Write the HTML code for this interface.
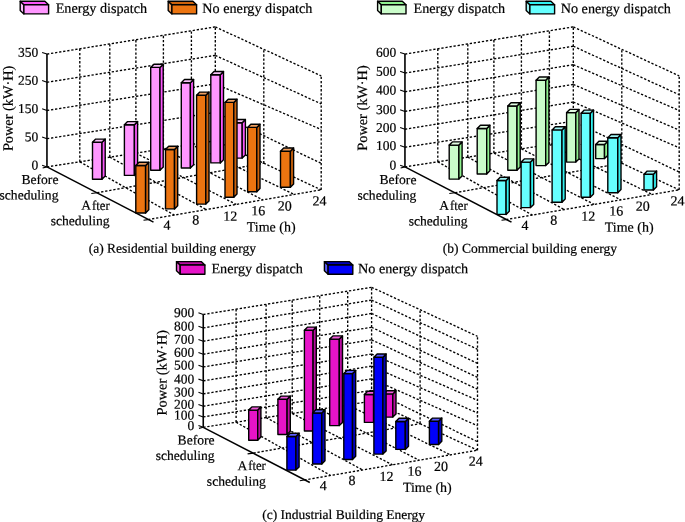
<!DOCTYPE html>
<html><head><meta charset="utf-8"><title>Building energy charts</title>
<style>html,body{margin:0;padding:0;background:#fff;}body{width:685px;height:522px;overflow:hidden;font-family:"Liberation Serif",serif;}svg{display:block;will-change:transform;}</style>
</head><body>
<svg width="685" height="522" viewBox="0 0 685 522"><g font-family="Liberation Serif" fill="#000">
<line x1="46.95" y1="166.9" x2="215.3" y2="140.8" stroke="#000" stroke-width="1.35" stroke-dasharray="2.3 1.8"/>
<line x1="215.3" y1="140.8" x2="321.2" y2="189.8" stroke="#000" stroke-width="1.35" stroke-dasharray="2.3 1.8"/>
<line x1="46.95" y1="138.7" x2="215.3" y2="112.33" stroke="#000" stroke-width="1.35" stroke-dasharray="2.3 1.8"/>
<line x1="215.3" y1="112.33" x2="321.2" y2="163.38" stroke="#000" stroke-width="1.35" stroke-dasharray="2.3 1.8"/>
<line x1="46.95" y1="110.5" x2="215.3" y2="83.85" stroke="#000" stroke-width="1.35" stroke-dasharray="2.3 1.8"/>
<line x1="215.3" y1="83.85" x2="321.2" y2="129.55" stroke="#000" stroke-width="1.35" stroke-dasharray="2.3 1.8"/>
<line x1="46.95" y1="82.3" x2="215.3" y2="55.38" stroke="#000" stroke-width="1.35" stroke-dasharray="2.3 1.8"/>
<line x1="215.3" y1="55.38" x2="321.2" y2="103.92" stroke="#000" stroke-width="1.35" stroke-dasharray="2.3 1.8"/>
<line x1="46.95" y1="54.1" x2="215.3" y2="26.9" stroke="#000" stroke-width="1.35" stroke-dasharray="2.3 1.8"/>
<line x1="215.3" y1="26.9" x2="321.2" y2="75.9" stroke="#000" stroke-width="1.35" stroke-dasharray="2.3 1.8"/>
<line x1="79.8" y1="161.81" x2="79.8" y2="48.79" stroke="#000" stroke-width="1.35" stroke-dasharray="2.3 1.8"/>
<line x1="109.8" y1="157.16" x2="109.8" y2="43.95" stroke="#000" stroke-width="1.35" stroke-dasharray="2.3 1.8"/>
<line x1="135.9" y1="153.11" x2="135.9" y2="39.73" stroke="#000" stroke-width="1.35" stroke-dasharray="2.3 1.8"/>
<line x1="163.4" y1="148.85" x2="163.4" y2="35.29" stroke="#000" stroke-width="1.35" stroke-dasharray="2.3 1.8"/>
<line x1="191.4" y1="144.51" x2="191.4" y2="30.76" stroke="#000" stroke-width="1.35" stroke-dasharray="2.3 1.8"/>
<line x1="215.3" y1="140.8" x2="215.3" y2="26.9" stroke="#000" stroke-width="1.35" stroke-dasharray="2.3 1.8"/>
<line x1="263.8" y1="163.24" x2="263.8" y2="49.34" stroke="#000" stroke-width="1.35" stroke-dasharray="2.3 1.8"/>
<line x1="321.2" y1="189.8" x2="321.2" y2="75.9" stroke="#000" stroke-width="1.35" stroke-dasharray="2.3 1.8"/>
<line x1="79.8" y1="161.81" x2="174.3" y2="215.07" stroke="#000" stroke-width="1.35" stroke-dasharray="2.3 1.8"/>
<line x1="109.8" y1="157.16" x2="206.3" y2="209.57" stroke="#000" stroke-width="1.35" stroke-dasharray="2.3 1.8"/>
<line x1="135.9" y1="153.11" x2="236.2" y2="204.42" stroke="#000" stroke-width="1.35" stroke-dasharray="2.3 1.8"/>
<line x1="163.4" y1="148.85" x2="262.8" y2="199.85" stroke="#000" stroke-width="1.35" stroke-dasharray="2.3 1.8"/>
<line x1="191.4" y1="144.51" x2="294.2" y2="194.45" stroke="#000" stroke-width="1.35" stroke-dasharray="2.3 1.8"/>
<line x1="97.1" y1="192.7" x2="263.8" y2="163.24" stroke="#000" stroke-width="1.35" stroke-dasharray="2.3 1.8"/>
<line x1="148" y1="219.6" x2="321.2" y2="189.8" stroke="#000" stroke-width="1.35" stroke-dasharray="2.3 1.8"/>
<line x1="46.95" y1="166.9" x2="46.95" y2="54.1" stroke="#000" stroke-width="1.6"/>
<line x1="46.95" y1="166.9" x2="153.5" y2="222.1" stroke="#000" stroke-width="1.5"/>
<line x1="46.95" y1="166.9" x2="42.15" y2="165.2" stroke="#000" stroke-width="1.1"/>
<line x1="46.95" y1="138.7" x2="42.15" y2="137" stroke="#000" stroke-width="1.1"/>
<line x1="46.95" y1="110.5" x2="42.15" y2="108.8" stroke="#000" stroke-width="1.1"/>
<line x1="46.95" y1="82.3" x2="42.15" y2="80.6" stroke="#000" stroke-width="1.1"/>
<line x1="46.95" y1="54.1" x2="42.15" y2="52.4" stroke="#000" stroke-width="1.1"/>
<line x1="97.1" y1="192.7" x2="91.3" y2="193.5" stroke="#000" stroke-width="1.1"/>
<line x1="148" y1="219.6" x2="143.5" y2="220.3" stroke="#000" stroke-width="1.1"/>
<line x1="46.95" y1="166.9" x2="42.65" y2="168" stroke="#000" stroke-width="1.1"/>
<polygon points="92.5,142.3 102,142.3 102,179.3 92.5,179.3" fill="#FF96FF" stroke="#000" stroke-width="1.4" stroke-linejoin="round"/>
<polygon points="102,142.3 105.2,139.1 105.2,176.1 102,179.3" fill="#FA55FA" stroke="#000" stroke-width="1.4" stroke-linejoin="round"/>
<polygon points="92.5,142.3 95.7,139.1 105.2,139.1 102,142.3" fill="#F8C0F8" stroke="#000" stroke-width="1.4" stroke-linejoin="round"/>
<polygon points="124.4,124.8 134.4,124.8 134.4,175.4 124.4,175.4" fill="#FF96FF" stroke="#000" stroke-width="1.4" stroke-linejoin="round"/>
<polygon points="134.4,124.8 137.6,121.6 137.6,172.2 134.4,175.4" fill="#FA55FA" stroke="#000" stroke-width="1.4" stroke-linejoin="round"/>
<polygon points="124.4,124.8 127.6,121.6 137.6,121.6 134.4,124.8" fill="#F8C0F8" stroke="#000" stroke-width="1.4" stroke-linejoin="round"/>
<polygon points="150.7,67.4 160,67.4 160,170.3 150.7,170.3" fill="#FF96FF" stroke="#000" stroke-width="1.4" stroke-linejoin="round"/>
<polygon points="160,67.4 163.2,64.2 163.2,167.1 160,170.3" fill="#FA55FA" stroke="#000" stroke-width="1.4" stroke-linejoin="round"/>
<polygon points="150.7,67.4 153.9,64.2 163.2,64.2 160,67.4" fill="#F8C0F8" stroke="#000" stroke-width="1.4" stroke-linejoin="round"/>
<polygon points="181.3,82.7 190.4,82.7 190.4,168 181.3,168" fill="#FF96FF" stroke="#000" stroke-width="1.4" stroke-linejoin="round"/>
<polygon points="190.4,82.7 193.6,79.5 193.6,164.8 190.4,168" fill="#FA55FA" stroke="#000" stroke-width="1.4" stroke-linejoin="round"/>
<polygon points="181.3,82.7 184.5,79.5 193.6,79.5 190.4,82.7" fill="#F8C0F8" stroke="#000" stroke-width="1.4" stroke-linejoin="round"/>
<polygon points="210.8,74.7 220.3,74.7 220.3,162.9 210.8,162.9" fill="#FF96FF" stroke="#000" stroke-width="1.4" stroke-linejoin="round"/>
<polygon points="220.3,74.7 223.5,71.5 223.5,159.7 220.3,162.9" fill="#FA55FA" stroke="#000" stroke-width="1.4" stroke-linejoin="round"/>
<polygon points="210.8,74.7 214,71.5 223.5,71.5 220.3,74.7" fill="#F8C0F8" stroke="#000" stroke-width="1.4" stroke-linejoin="round"/>
<polygon points="232.7,122.7 242.2,122.7 242.2,158.1 232.7,158.1" fill="#FF96FF" stroke="#000" stroke-width="1.4" stroke-linejoin="round"/>
<polygon points="242.2,122.7 245.4,119.5 245.4,154.9 242.2,158.1" fill="#FA55FA" stroke="#000" stroke-width="1.4" stroke-linejoin="round"/>
<polygon points="232.7,122.7 235.9,119.5 245.4,119.5 242.2,122.7" fill="#F8C0F8" stroke="#000" stroke-width="1.4" stroke-linejoin="round"/>
<polygon points="135.8,165.5 145.6,165.5 145.6,213 135.8,213" fill="#EC7410" stroke="#000" stroke-width="1.4" stroke-linejoin="round"/>
<polygon points="145.6,165.5 148.8,162.3 148.8,209.8 145.6,213" fill="#CC620C" stroke="#000" stroke-width="1.4" stroke-linejoin="round"/>
<polygon points="135.8,165.5 139,162.3 148.8,162.3 145.6,165.5" fill="#F0A060" stroke="#000" stroke-width="1.4" stroke-linejoin="round"/>
<polygon points="165.5,149.5 174.5,149.5 174.5,208.9 165.5,208.9" fill="#EC7410" stroke="#000" stroke-width="1.4" stroke-linejoin="round"/>
<polygon points="174.5,149.5 177.7,146.3 177.7,205.7 174.5,208.9" fill="#CC620C" stroke="#000" stroke-width="1.4" stroke-linejoin="round"/>
<polygon points="165.5,149.5 168.7,146.3 177.7,146.3 174.5,149.5" fill="#F0A060" stroke="#000" stroke-width="1.4" stroke-linejoin="round"/>
<polygon points="196.6,95.3 205.8,95.3 205.8,204.1 196.6,204.1" fill="#EC7410" stroke="#000" stroke-width="1.4" stroke-linejoin="round"/>
<polygon points="205.8,95.3 209,92.1 209,200.9 205.8,204.1" fill="#CC620C" stroke="#000" stroke-width="1.4" stroke-linejoin="round"/>
<polygon points="196.6,95.3 199.8,92.1 209,92.1 205.8,95.3" fill="#F0A060" stroke="#000" stroke-width="1.4" stroke-linejoin="round"/>
<polygon points="225,102.4 233.8,102.4 233.8,197.3 225,197.3" fill="#EC7410" stroke="#000" stroke-width="1.4" stroke-linejoin="round"/>
<polygon points="233.8,102.4 237,99.2 237,194.1 233.8,197.3" fill="#CC620C" stroke="#000" stroke-width="1.4" stroke-linejoin="round"/>
<polygon points="225,102.4 228.2,99.2 237,99.2 233.8,102.4" fill="#F0A060" stroke="#000" stroke-width="1.4" stroke-linejoin="round"/>
<polygon points="247.6,127.4 256.8,127.4 256.8,191.8 247.6,191.8" fill="#EC7410" stroke="#000" stroke-width="1.4" stroke-linejoin="round"/>
<polygon points="256.8,127.4 260,124.2 260,188.6 256.8,191.8" fill="#CC620C" stroke="#000" stroke-width="1.4" stroke-linejoin="round"/>
<polygon points="247.6,127.4 250.8,124.2 260,124.2 256.8,127.4" fill="#F0A060" stroke="#000" stroke-width="1.4" stroke-linejoin="round"/>
<polygon points="280.5,151.2 290.4,151.2 290.4,187.3 280.5,187.3" fill="#EC7410" stroke="#000" stroke-width="1.4" stroke-linejoin="round"/>
<polygon points="290.4,151.2 293.6,148 293.6,184.1 290.4,187.3" fill="#CC620C" stroke="#000" stroke-width="1.4" stroke-linejoin="round"/>
<polygon points="280.5,151.2 283.7,148 293.6,148 290.4,151.2" fill="#F0A060" stroke="#000" stroke-width="1.4" stroke-linejoin="round"/>
<line x1="404.95" y1="166.9" x2="573.3" y2="140.8" stroke="#000" stroke-width="1.35" stroke-dasharray="2.3 1.8"/>
<line x1="573.3" y1="140.8" x2="679.2" y2="189.8" stroke="#000" stroke-width="1.35" stroke-dasharray="2.3 1.8"/>
<line x1="404.95" y1="147.27" x2="573.3" y2="121.21" stroke="#000" stroke-width="1.35" stroke-dasharray="2.3 1.8"/>
<line x1="573.3" y1="121.21" x2="679.2" y2="172.03" stroke="#000" stroke-width="1.35" stroke-dasharray="2.3 1.8"/>
<line x1="404.95" y1="129.22" x2="573.3" y2="102.07" stroke="#000" stroke-width="1.35" stroke-dasharray="2.3 1.8"/>
<line x1="573.3" y1="102.07" x2="679.2" y2="147.77" stroke="#000" stroke-width="1.35" stroke-dasharray="2.3 1.8"/>
<line x1="404.95" y1="111.4" x2="573.3" y2="84.42" stroke="#000" stroke-width="1.35" stroke-dasharray="2.3 1.8"/>
<line x1="573.3" y1="84.42" x2="679.2" y2="130.12" stroke="#000" stroke-width="1.35" stroke-dasharray="2.3 1.8"/>
<line x1="404.95" y1="91.78" x2="573.3" y2="64.71" stroke="#000" stroke-width="1.35" stroke-dasharray="2.3 1.8"/>
<line x1="573.3" y1="64.71" x2="679.2" y2="110.53" stroke="#000" stroke-width="1.35" stroke-dasharray="2.3 1.8"/>
<line x1="404.95" y1="73.05" x2="573.3" y2="46.26" stroke="#000" stroke-width="1.35" stroke-dasharray="2.3 1.8"/>
<line x1="573.3" y1="46.26" x2="679.2" y2="94.69" stroke="#000" stroke-width="1.35" stroke-dasharray="2.3 1.8"/>
<line x1="404.95" y1="54.1" x2="573.3" y2="26.9" stroke="#000" stroke-width="1.35" stroke-dasharray="2.3 1.8"/>
<line x1="573.3" y1="26.9" x2="679.2" y2="75.9" stroke="#000" stroke-width="1.35" stroke-dasharray="2.3 1.8"/>
<line x1="437.8" y1="161.81" x2="437.8" y2="48.79" stroke="#000" stroke-width="1.35" stroke-dasharray="2.3 1.8"/>
<line x1="467.8" y1="157.16" x2="467.8" y2="43.95" stroke="#000" stroke-width="1.35" stroke-dasharray="2.3 1.8"/>
<line x1="493.9" y1="153.11" x2="493.9" y2="39.73" stroke="#000" stroke-width="1.35" stroke-dasharray="2.3 1.8"/>
<line x1="521.4" y1="148.85" x2="521.4" y2="35.29" stroke="#000" stroke-width="1.35" stroke-dasharray="2.3 1.8"/>
<line x1="549.4" y1="144.51" x2="549.4" y2="30.76" stroke="#000" stroke-width="1.35" stroke-dasharray="2.3 1.8"/>
<line x1="573.3" y1="140.8" x2="573.3" y2="26.9" stroke="#000" stroke-width="1.35" stroke-dasharray="2.3 1.8"/>
<line x1="621.8" y1="163.24" x2="621.8" y2="49.34" stroke="#000" stroke-width="1.35" stroke-dasharray="2.3 1.8"/>
<line x1="679.2" y1="189.8" x2="679.2" y2="75.9" stroke="#000" stroke-width="1.35" stroke-dasharray="2.3 1.8"/>
<line x1="437.8" y1="161.81" x2="532.3" y2="215.07" stroke="#000" stroke-width="1.35" stroke-dasharray="2.3 1.8"/>
<line x1="467.8" y1="157.16" x2="564.3" y2="209.57" stroke="#000" stroke-width="1.35" stroke-dasharray="2.3 1.8"/>
<line x1="493.9" y1="153.11" x2="594.2" y2="204.42" stroke="#000" stroke-width="1.35" stroke-dasharray="2.3 1.8"/>
<line x1="521.4" y1="148.85" x2="620.8" y2="199.85" stroke="#000" stroke-width="1.35" stroke-dasharray="2.3 1.8"/>
<line x1="549.4" y1="144.51" x2="652.2" y2="194.45" stroke="#000" stroke-width="1.35" stroke-dasharray="2.3 1.8"/>
<line x1="455.1" y1="192.7" x2="621.8" y2="163.24" stroke="#000" stroke-width="1.35" stroke-dasharray="2.3 1.8"/>
<line x1="506" y1="219.6" x2="679.2" y2="189.8" stroke="#000" stroke-width="1.35" stroke-dasharray="2.3 1.8"/>
<line x1="404.95" y1="166.9" x2="404.95" y2="54.1" stroke="#000" stroke-width="1.6"/>
<line x1="404.95" y1="166.9" x2="511.5" y2="222.1" stroke="#000" stroke-width="1.5"/>
<line x1="404.95" y1="166.9" x2="400.15" y2="165.2" stroke="#000" stroke-width="1.1"/>
<line x1="404.95" y1="147.27" x2="400.15" y2="145.57" stroke="#000" stroke-width="1.1"/>
<line x1="404.95" y1="129.22" x2="400.15" y2="127.52" stroke="#000" stroke-width="1.1"/>
<line x1="404.95" y1="111.4" x2="400.15" y2="109.7" stroke="#000" stroke-width="1.1"/>
<line x1="404.95" y1="91.78" x2="400.15" y2="90.08" stroke="#000" stroke-width="1.1"/>
<line x1="404.95" y1="73.05" x2="400.15" y2="71.35" stroke="#000" stroke-width="1.1"/>
<line x1="404.95" y1="54.1" x2="400.15" y2="52.4" stroke="#000" stroke-width="1.1"/>
<line x1="455.1" y1="192.7" x2="449.3" y2="193.5" stroke="#000" stroke-width="1.1"/>
<line x1="506" y1="219.6" x2="501.5" y2="220.3" stroke="#000" stroke-width="1.1"/>
<line x1="404.95" y1="166.9" x2="400.65" y2="168" stroke="#000" stroke-width="1.1"/>
<polygon points="449.2,145.1 458.9,145.1 458.9,179.1 449.2,179.1" fill="#CAFCCA" stroke="#000" stroke-width="1.4" stroke-linejoin="round"/>
<polygon points="458.9,145.1 462.1,141.9 462.1,175.9 458.9,179.1" fill="#8EF08E" stroke="#000" stroke-width="1.4" stroke-linejoin="round"/>
<polygon points="449.2,145.1 452.4,141.9 462.1,141.9 458.9,145.1" fill="#E2FCE2" stroke="#000" stroke-width="1.4" stroke-linejoin="round"/>
<polygon points="477.2,128.5 486.7,128.5 486.7,174 477.2,174" fill="#CAFCCA" stroke="#000" stroke-width="1.4" stroke-linejoin="round"/>
<polygon points="486.7,128.5 489.9,125.3 489.9,170.8 486.7,174" fill="#8EF08E" stroke="#000" stroke-width="1.4" stroke-linejoin="round"/>
<polygon points="477.2,128.5 480.4,125.3 489.9,125.3 486.7,128.5" fill="#E2FCE2" stroke="#000" stroke-width="1.4" stroke-linejoin="round"/>
<polygon points="507.8,106 517,106 517,170.3 507.8,170.3" fill="#CAFCCA" stroke="#000" stroke-width="1.4" stroke-linejoin="round"/>
<polygon points="517,106 520.2,102.8 520.2,167.1 517,170.3" fill="#8EF08E" stroke="#000" stroke-width="1.4" stroke-linejoin="round"/>
<polygon points="507.8,106 511,102.8 520.2,102.8 517,106" fill="#E2FCE2" stroke="#000" stroke-width="1.4" stroke-linejoin="round"/>
<polygon points="536.1,80.2 545.7,80.2 545.7,165.6 536.1,165.6" fill="#CAFCCA" stroke="#000" stroke-width="1.4" stroke-linejoin="round"/>
<polygon points="545.7,80.2 548.9,77 548.9,162.4 545.7,165.6" fill="#8EF08E" stroke="#000" stroke-width="1.4" stroke-linejoin="round"/>
<polygon points="536.1,80.2 539.3,77 548.9,77 545.7,80.2" fill="#E2FCE2" stroke="#000" stroke-width="1.4" stroke-linejoin="round"/>
<polygon points="566.6,112.6 575.8,112.6 575.8,162.1 566.6,162.1" fill="#CAFCCA" stroke="#000" stroke-width="1.4" stroke-linejoin="round"/>
<polygon points="575.8,112.6 579,109.4 579,158.9 575.8,162.1" fill="#8EF08E" stroke="#000" stroke-width="1.4" stroke-linejoin="round"/>
<polygon points="566.6,112.6 569.8,109.4 579,109.4 575.8,112.6" fill="#E2FCE2" stroke="#000" stroke-width="1.4" stroke-linejoin="round"/>
<polygon points="595.7,144.5 604.5,144.5 604.5,158.6 595.7,158.6" fill="#CAFCCA" stroke="#000" stroke-width="1.4" stroke-linejoin="round"/>
<polygon points="604.5,144.5 607.7,141.3 607.7,155.4 604.5,158.6" fill="#8EF08E" stroke="#000" stroke-width="1.4" stroke-linejoin="round"/>
<polygon points="595.7,144.5 598.9,141.3 607.7,141.3 604.5,144.5" fill="#E2FCE2" stroke="#000" stroke-width="1.4" stroke-linejoin="round"/>
<polygon points="497,180.5 506.1,180.5 506.1,214.4 497,214.4" fill="#66FFFF" stroke="#000" stroke-width="1.4" stroke-linejoin="round"/>
<polygon points="506.1,180.5 509.3,177.3 509.3,211.2 506.1,214.4" fill="#30F0F0" stroke="#000" stroke-width="1.4" stroke-linejoin="round"/>
<polygon points="497,180.5 500.2,177.3 509.3,177.3 506.1,180.5" fill="#A0F4F4" stroke="#000" stroke-width="1.4" stroke-linejoin="round"/>
<polygon points="521.1,162.1 530.5,162.1 530.5,207.6 521.1,207.6" fill="#66FFFF" stroke="#000" stroke-width="1.4" stroke-linejoin="round"/>
<polygon points="530.5,162.1 533.7,158.9 533.7,204.4 530.5,207.6" fill="#30F0F0" stroke="#000" stroke-width="1.4" stroke-linejoin="round"/>
<polygon points="521.1,162.1 524.3,158.9 533.7,158.9 530.5,162.1" fill="#A0F4F4" stroke="#000" stroke-width="1.4" stroke-linejoin="round"/>
<polygon points="552.1,129.9 562,129.9 562,202.3 552.1,202.3" fill="#66FFFF" stroke="#000" stroke-width="1.4" stroke-linejoin="round"/>
<polygon points="562,129.9 565.2,126.7 565.2,199.1 562,202.3" fill="#30F0F0" stroke="#000" stroke-width="1.4" stroke-linejoin="round"/>
<polygon points="552.1,129.9 555.3,126.7 565.2,126.7 562,129.9" fill="#A0F4F4" stroke="#000" stroke-width="1.4" stroke-linejoin="round"/>
<polygon points="581.1,113.3 590.3,113.3 590.3,197.2 581.1,197.2" fill="#66FFFF" stroke="#000" stroke-width="1.4" stroke-linejoin="round"/>
<polygon points="590.3,113.3 593.5,110.1 593.5,194 590.3,197.2" fill="#30F0F0" stroke="#000" stroke-width="1.4" stroke-linejoin="round"/>
<polygon points="581.1,113.3 584.3,110.1 593.5,110.1 590.3,113.3" fill="#A0F4F4" stroke="#000" stroke-width="1.4" stroke-linejoin="round"/>
<polygon points="607.8,137.7 617.8,137.7 617.8,192.8 607.8,192.8" fill="#66FFFF" stroke="#000" stroke-width="1.4" stroke-linejoin="round"/>
<polygon points="617.8,137.7 621,134.5 621,189.6 617.8,192.8" fill="#30F0F0" stroke="#000" stroke-width="1.4" stroke-linejoin="round"/>
<polygon points="607.8,137.7 611,134.5 621,134.5 617.8,137.7" fill="#A0F4F4" stroke="#000" stroke-width="1.4" stroke-linejoin="round"/>
<polygon points="644,174.3 653.4,174.3 653.4,190 644,190" fill="#66FFFF" stroke="#000" stroke-width="1.4" stroke-linejoin="round"/>
<polygon points="653.4,174.3 656.6,171.1 656.6,186.8 653.4,190" fill="#30F0F0" stroke="#000" stroke-width="1.4" stroke-linejoin="round"/>
<polygon points="644,174.3 647.2,171.1 656.6,171.1 653.4,174.3" fill="#A0F4F4" stroke="#000" stroke-width="1.4" stroke-linejoin="round"/>
<line x1="203.25" y1="427.3" x2="371.6" y2="401.2" stroke="#000" stroke-width="1.35" stroke-dasharray="2.3 1.8"/>
<line x1="371.6" y1="401.2" x2="477.5" y2="450.2" stroke="#000" stroke-width="1.35" stroke-dasharray="2.3 1.8"/>
<line x1="203.25" y1="416.92" x2="371.6" y2="390.38" stroke="#000" stroke-width="1.35" stroke-dasharray="2.3 1.8"/>
<line x1="371.6" y1="390.38" x2="477.5" y2="441.77" stroke="#000" stroke-width="1.35" stroke-dasharray="2.3 1.8"/>
<line x1="203.25" y1="406.21" x2="371.6" y2="378.88" stroke="#000" stroke-width="1.35" stroke-dasharray="2.3 1.8"/>
<line x1="371.6" y1="378.88" x2="477.5" y2="425.71" stroke="#000" stroke-width="1.35" stroke-dasharray="2.3 1.8"/>
<line x1="203.25" y1="393.91" x2="371.6" y2="366.12" stroke="#000" stroke-width="1.35" stroke-dasharray="2.3 1.8"/>
<line x1="371.6" y1="366.12" x2="477.5" y2="413.07" stroke="#000" stroke-width="1.35" stroke-dasharray="2.3 1.8"/>
<line x1="203.25" y1="380.83" x2="371.6" y2="354.05" stroke="#000" stroke-width="1.35" stroke-dasharray="2.3 1.8"/>
<line x1="371.6" y1="354.05" x2="477.5" y2="400.31" stroke="#000" stroke-width="1.35" stroke-dasharray="2.3 1.8"/>
<line x1="203.25" y1="366.95" x2="371.6" y2="339.81" stroke="#000" stroke-width="1.35" stroke-dasharray="2.3 1.8"/>
<line x1="371.6" y1="339.81" x2="477.5" y2="389.15" stroke="#000" stroke-width="1.35" stroke-dasharray="2.3 1.8"/>
<line x1="203.25" y1="354.21" x2="371.6" y2="327.28" stroke="#000" stroke-width="1.35" stroke-dasharray="2.3 1.8"/>
<line x1="371.6" y1="327.28" x2="477.5" y2="377.3" stroke="#000" stroke-width="1.35" stroke-dasharray="2.3 1.8"/>
<line x1="203.25" y1="341.23" x2="371.6" y2="313.5" stroke="#000" stroke-width="1.35" stroke-dasharray="2.3 1.8"/>
<line x1="371.6" y1="313.5" x2="477.5" y2="363.41" stroke="#000" stroke-width="1.35" stroke-dasharray="2.3 1.8"/>
<line x1="203.25" y1="327.92" x2="371.6" y2="300.06" stroke="#000" stroke-width="1.35" stroke-dasharray="2.3 1.8"/>
<line x1="371.6" y1="300.06" x2="477.5" y2="349.28" stroke="#000" stroke-width="1.35" stroke-dasharray="2.3 1.8"/>
<line x1="203.25" y1="314.5" x2="371.6" y2="287.3" stroke="#000" stroke-width="1.35" stroke-dasharray="2.3 1.8"/>
<line x1="371.6" y1="287.3" x2="477.5" y2="336.3" stroke="#000" stroke-width="1.35" stroke-dasharray="2.3 1.8"/>
<line x1="236.1" y1="422.21" x2="236.1" y2="309.19" stroke="#000" stroke-width="1.35" stroke-dasharray="2.3 1.8"/>
<line x1="266.1" y1="417.56" x2="266.1" y2="304.35" stroke="#000" stroke-width="1.35" stroke-dasharray="2.3 1.8"/>
<line x1="292.2" y1="413.51" x2="292.2" y2="300.13" stroke="#000" stroke-width="1.35" stroke-dasharray="2.3 1.8"/>
<line x1="319.7" y1="409.25" x2="319.7" y2="295.69" stroke="#000" stroke-width="1.35" stroke-dasharray="2.3 1.8"/>
<line x1="347.7" y1="404.91" x2="347.7" y2="291.16" stroke="#000" stroke-width="1.35" stroke-dasharray="2.3 1.8"/>
<line x1="371.6" y1="401.2" x2="371.6" y2="287.3" stroke="#000" stroke-width="1.35" stroke-dasharray="2.3 1.8"/>
<line x1="420.1" y1="423.64" x2="420.1" y2="309.74" stroke="#000" stroke-width="1.35" stroke-dasharray="2.3 1.8"/>
<line x1="477.5" y1="450.2" x2="477.5" y2="336.3" stroke="#000" stroke-width="1.35" stroke-dasharray="2.3 1.8"/>
<line x1="236.1" y1="422.21" x2="330.6" y2="475.47" stroke="#000" stroke-width="1.35" stroke-dasharray="2.3 1.8"/>
<line x1="266.1" y1="417.56" x2="362.6" y2="469.97" stroke="#000" stroke-width="1.35" stroke-dasharray="2.3 1.8"/>
<line x1="292.2" y1="413.51" x2="392.5" y2="464.82" stroke="#000" stroke-width="1.35" stroke-dasharray="2.3 1.8"/>
<line x1="319.7" y1="409.25" x2="419.1" y2="460.25" stroke="#000" stroke-width="1.35" stroke-dasharray="2.3 1.8"/>
<line x1="347.7" y1="404.91" x2="450.5" y2="454.85" stroke="#000" stroke-width="1.35" stroke-dasharray="2.3 1.8"/>
<line x1="253.4" y1="453.1" x2="420.1" y2="423.64" stroke="#000" stroke-width="1.35" stroke-dasharray="2.3 1.8"/>
<line x1="304.3" y1="480" x2="477.5" y2="450.2" stroke="#000" stroke-width="1.35" stroke-dasharray="2.3 1.8"/>
<line x1="203.25" y1="427.3" x2="203.25" y2="314.5" stroke="#000" stroke-width="1.6"/>
<line x1="203.25" y1="427.3" x2="309.8" y2="482.5" stroke="#000" stroke-width="1.5"/>
<line x1="203.25" y1="427.3" x2="198.45" y2="425.6" stroke="#000" stroke-width="1.1"/>
<line x1="203.25" y1="416.92" x2="198.45" y2="415.22" stroke="#000" stroke-width="1.1"/>
<line x1="203.25" y1="406.21" x2="198.45" y2="404.51" stroke="#000" stroke-width="1.1"/>
<line x1="203.25" y1="393.91" x2="198.45" y2="392.21" stroke="#000" stroke-width="1.1"/>
<line x1="203.25" y1="380.83" x2="198.45" y2="379.13" stroke="#000" stroke-width="1.1"/>
<line x1="203.25" y1="366.95" x2="198.45" y2="365.25" stroke="#000" stroke-width="1.1"/>
<line x1="203.25" y1="354.21" x2="198.45" y2="352.51" stroke="#000" stroke-width="1.1"/>
<line x1="203.25" y1="341.23" x2="198.45" y2="339.53" stroke="#000" stroke-width="1.1"/>
<line x1="203.25" y1="327.92" x2="198.45" y2="326.22" stroke="#000" stroke-width="1.1"/>
<line x1="203.25" y1="314.5" x2="198.45" y2="312.8" stroke="#000" stroke-width="1.1"/>
<line x1="253.4" y1="453.1" x2="247.6" y2="453.9" stroke="#000" stroke-width="1.1"/>
<line x1="304.3" y1="480" x2="299.8" y2="480.7" stroke="#000" stroke-width="1.1"/>
<line x1="203.25" y1="427.3" x2="198.95" y2="428.4" stroke="#000" stroke-width="1.1"/>
<polygon points="248.7,410.1 257.7,410.1 257.7,440.3 248.7,440.3" fill="#E614C8" stroke="#000" stroke-width="1.4" stroke-linejoin="round"/>
<polygon points="257.7,410.1 260.9,406.9 260.9,437.1 257.7,440.3" fill="#B80CA0" stroke="#000" stroke-width="1.4" stroke-linejoin="round"/>
<polygon points="248.7,410.1 251.9,406.9 260.9,406.9 257.7,410.1" fill="#F05ADC" stroke="#000" stroke-width="1.4" stroke-linejoin="round"/>
<polygon points="277.9,399.3 287.1,399.3 287.1,434.5 277.9,434.5" fill="#E614C8" stroke="#000" stroke-width="1.4" stroke-linejoin="round"/>
<polygon points="287.1,399.3 290.3,396.1 290.3,431.3 287.1,434.5" fill="#B80CA0" stroke="#000" stroke-width="1.4" stroke-linejoin="round"/>
<polygon points="277.9,399.3 281.1,396.1 290.3,396.1 287.1,399.3" fill="#F05ADC" stroke="#000" stroke-width="1.4" stroke-linejoin="round"/>
<polygon points="304.4,330.3 313.1,330.3 313.1,431 304.4,431" fill="#E614C8" stroke="#000" stroke-width="1.4" stroke-linejoin="round"/>
<polygon points="313.1,330.3 316.3,327.1 316.3,427.8 313.1,431" fill="#B80CA0" stroke="#000" stroke-width="1.4" stroke-linejoin="round"/>
<polygon points="304.4,330.3 307.6,327.1 316.3,327.1 313.1,330.3" fill="#F05ADC" stroke="#000" stroke-width="1.4" stroke-linejoin="round"/>
<polygon points="329.7,339.1 339.3,339.1 339.3,425.6 329.7,425.6" fill="#E614C8" stroke="#000" stroke-width="1.4" stroke-linejoin="round"/>
<polygon points="339.3,339.1 342.5,335.9 342.5,422.4 339.3,425.6" fill="#B80CA0" stroke="#000" stroke-width="1.4" stroke-linejoin="round"/>
<polygon points="329.7,339.1 332.9,335.9 342.5,335.9 339.3,339.1" fill="#F05ADC" stroke="#000" stroke-width="1.4" stroke-linejoin="round"/>
<polygon points="364.4,394.5 373.6,394.5 373.6,422.4 364.4,422.4" fill="#E614C8" stroke="#000" stroke-width="1.4" stroke-linejoin="round"/>
<polygon points="373.6,394.5 376.8,391.3 376.8,419.2 373.6,422.4" fill="#B80CA0" stroke="#000" stroke-width="1.4" stroke-linejoin="round"/>
<polygon points="364.4,394.5 367.6,391.3 376.8,391.3 373.6,394.5" fill="#F05ADC" stroke="#000" stroke-width="1.4" stroke-linejoin="round"/>
<polygon points="383.6,393.9 392.8,393.9 392.8,417.1 383.6,417.1" fill="#E614C8" stroke="#000" stroke-width="1.4" stroke-linejoin="round"/>
<polygon points="392.8,393.9 396,390.7 396,413.9 392.8,417.1" fill="#B80CA0" stroke="#000" stroke-width="1.4" stroke-linejoin="round"/>
<polygon points="383.6,393.9 386.8,390.7 396,390.7 392.8,393.9" fill="#F05ADC" stroke="#000" stroke-width="1.4" stroke-linejoin="round"/>
<polygon points="286.9,436.5 295.9,436.5 295.9,470.1 286.9,470.1" fill="#0000FA" stroke="#000" stroke-width="1.4" stroke-linejoin="round"/>
<polygon points="295.9,436.5 299.1,433.3 299.1,466.9 295.9,470.1" fill="#0000BC" stroke="#000" stroke-width="1.4" stroke-linejoin="round"/>
<polygon points="286.9,436.5 290.1,433.3 299.1,433.3 295.9,436.5" fill="#5A5AFA" stroke="#000" stroke-width="1.4" stroke-linejoin="round"/>
<polygon points="312.6,413 321.8,413 321.8,464 312.6,464" fill="#0000FA" stroke="#000" stroke-width="1.4" stroke-linejoin="round"/>
<polygon points="321.8,413 325,409.8 325,460.8 321.8,464" fill="#0000BC" stroke="#000" stroke-width="1.4" stroke-linejoin="round"/>
<polygon points="312.6,413 315.8,409.8 325,409.8 321.8,413" fill="#5A5AFA" stroke="#000" stroke-width="1.4" stroke-linejoin="round"/>
<polygon points="343.8,373.6 352.5,373.6 352.5,459.5 343.8,459.5" fill="#0000FA" stroke="#000" stroke-width="1.4" stroke-linejoin="round"/>
<polygon points="352.5,373.6 355.7,370.4 355.7,456.3 352.5,459.5" fill="#0000BC" stroke="#000" stroke-width="1.4" stroke-linejoin="round"/>
<polygon points="343.8,373.6 347,370.4 355.7,370.4 352.5,373.6" fill="#5A5AFA" stroke="#000" stroke-width="1.4" stroke-linejoin="round"/>
<polygon points="373.9,357.2 382.9,357.2 382.9,454.1 373.9,454.1" fill="#0000FA" stroke="#000" stroke-width="1.4" stroke-linejoin="round"/>
<polygon points="382.9,357.2 386.1,354 386.1,450.9 382.9,454.1" fill="#0000BC" stroke="#000" stroke-width="1.4" stroke-linejoin="round"/>
<polygon points="373.9,357.2 377.1,354 386.1,354 382.9,357.2" fill="#5A5AFA" stroke="#000" stroke-width="1.4" stroke-linejoin="round"/>
<polygon points="395.8,421.5 405.3,421.5 405.3,449.4 395.8,449.4" fill="#0000FA" stroke="#000" stroke-width="1.4" stroke-linejoin="round"/>
<polygon points="405.3,421.5 408.5,418.3 408.5,446.2 405.3,449.4" fill="#0000BC" stroke="#000" stroke-width="1.4" stroke-linejoin="round"/>
<polygon points="395.8,421.5 399,418.3 408.5,418.3 405.3,421.5" fill="#5A5AFA" stroke="#000" stroke-width="1.4" stroke-linejoin="round"/>
<polygon points="429.4,421.3 438.6,421.3 438.6,444.5 429.4,444.5" fill="#0000FA" stroke="#000" stroke-width="1.4" stroke-linejoin="round"/>
<polygon points="438.6,421.3 441.8,418.1 441.8,441.3 438.6,444.5" fill="#0000BC" stroke="#000" stroke-width="1.4" stroke-linejoin="round"/>
<polygon points="429.4,421.3 432.6,418.1 441.8,418.1 438.6,421.3" fill="#5A5AFA" stroke="#000" stroke-width="1.4" stroke-linejoin="round"/>
<polygon points="20.2,1.3 23.9,4.7 23.9,13.9 20.2,10.5" fill="#F8C0F8" stroke="#000" stroke-width="1.4" stroke-linejoin="round"/>
<polygon points="20.2,1.3 44.9,1.3 48.6,4.7 23.9,4.7" fill="#FA55FA" stroke="#000" stroke-width="1.4" stroke-linejoin="round"/>
<polygon points="23.9,4.7 48.6,4.7 48.6,13.9 23.9,13.9" fill="#FF96FF" stroke="#000" stroke-width="1.4" stroke-linejoin="round"/>
<polygon points="168.2,1.3 171.9,4.7 171.9,13.9 168.2,10.5" fill="#F0A060" stroke="#000" stroke-width="1.4" stroke-linejoin="round"/>
<polygon points="168.2,1.3 192.9,1.3 196.6,4.7 171.9,4.7" fill="#CC620C" stroke="#000" stroke-width="1.4" stroke-linejoin="round"/>
<polygon points="171.9,4.7 196.6,4.7 196.6,13.9 171.9,13.9" fill="#EC7410" stroke="#000" stroke-width="1.4" stroke-linejoin="round"/>
<polygon points="377.6,1.3 381.3,4.7 381.3,13.9 377.6,10.5" fill="#E2FCE2" stroke="#000" stroke-width="1.4" stroke-linejoin="round"/>
<polygon points="377.6,1.3 402.3,1.3 406,4.7 381.3,4.7" fill="#8EF08E" stroke="#000" stroke-width="1.4" stroke-linejoin="round"/>
<polygon points="381.3,4.7 406,4.7 406,13.9 381.3,13.9" fill="#CAFCCA" stroke="#000" stroke-width="1.4" stroke-linejoin="round"/>
<polygon points="526.2,1.3 529.9,4.7 529.9,13.9 526.2,10.5" fill="#A0F4F4" stroke="#000" stroke-width="1.4" stroke-linejoin="round"/>
<polygon points="526.2,1.3 550.9,1.3 554.6,4.7 529.9,4.7" fill="#30F0F0" stroke="#000" stroke-width="1.4" stroke-linejoin="round"/>
<polygon points="529.9,4.7 554.6,4.7 554.6,13.9 529.9,13.9" fill="#66FFFF" stroke="#000" stroke-width="1.4" stroke-linejoin="round"/>
<polygon points="176.5,261.6 180.2,265 180.2,274.2 176.5,270.8" fill="#F05ADC" stroke="#000" stroke-width="1.4" stroke-linejoin="round"/>
<polygon points="176.5,261.6 201.2,261.6 204.9,265 180.2,265" fill="#B80CA0" stroke="#000" stroke-width="1.4" stroke-linejoin="round"/>
<polygon points="180.2,265 204.9,265 204.9,274.2 180.2,274.2" fill="#E614C8" stroke="#000" stroke-width="1.4" stroke-linejoin="round"/>
<polygon points="324.4,261.6 328.1,265 328.1,274.2 324.4,270.8" fill="#5A5AFA" stroke="#000" stroke-width="1.4" stroke-linejoin="round"/>
<polygon points="324.4,261.6 349.1,261.6 352.8,265 328.1,265" fill="#0000BC" stroke="#000" stroke-width="1.4" stroke-linejoin="round"/>
<polygon points="328.1,265 352.8,265 352.8,274.2 328.1,274.2" fill="#0000FA" stroke="#000" stroke-width="1.4" stroke-linejoin="round"/>
<g transform="rotate(0.03 342 261)">
<text x="38.1" y="169.6" font-size="13.5" text-anchor="end" stroke="#000" stroke-width="0.2">0</text>
<text x="38.1" y="141.4" font-size="13.5" text-anchor="end" stroke="#000" stroke-width="0.2">50</text>
<text x="38.1" y="113.2" font-size="13.5" text-anchor="end" stroke="#000" stroke-width="0.2">150</text>
<text x="38.1" y="85" font-size="13.5" text-anchor="end" stroke="#000" stroke-width="0.2">250</text>
<text x="38.1" y="56.8" font-size="13.5" text-anchor="end" stroke="#000" stroke-width="0.2">350</text>
<text x="396.1" y="169.6" font-size="13.5" text-anchor="end" stroke="#000" stroke-width="0.2">0</text>
<text x="396.1" y="149.97" font-size="13.5" text-anchor="end" stroke="#000" stroke-width="0.2">100</text>
<text x="396.1" y="131.92" font-size="13.5" text-anchor="end" stroke="#000" stroke-width="0.2">200</text>
<text x="396.1" y="114.1" font-size="13.5" text-anchor="end" stroke="#000" stroke-width="0.2">300</text>
<text x="396.1" y="94.48" font-size="13.5" text-anchor="end" stroke="#000" stroke-width="0.2">400</text>
<text x="396.1" y="75.75" font-size="13.5" text-anchor="end" stroke="#000" stroke-width="0.2">500</text>
<text x="396.1" y="56.8" font-size="13.5" text-anchor="end" stroke="#000" stroke-width="0.2">600</text>
<text x="194.4" y="430" font-size="13.5" text-anchor="end" stroke="#000" stroke-width="0.2">0</text>
<text x="194.4" y="419.62" font-size="13.5" text-anchor="end" stroke="#000" stroke-width="0.2">100</text>
<text x="194.4" y="408.91" font-size="13.5" text-anchor="end" stroke="#000" stroke-width="0.2">200</text>
<text x="194.4" y="396.61" font-size="13.5" text-anchor="end" stroke="#000" stroke-width="0.2">300</text>
<text x="194.4" y="383.53" font-size="13.5" text-anchor="end" stroke="#000" stroke-width="0.2">400</text>
<text x="194.4" y="369.65" font-size="13.5" text-anchor="end" stroke="#000" stroke-width="0.2">500</text>
<text x="194.4" y="356.91" font-size="13.5" text-anchor="end" stroke="#000" stroke-width="0.2">600</text>
<text x="194.4" y="343.93" font-size="13.5" text-anchor="end" stroke="#000" stroke-width="0.2">700</text>
<text x="194.4" y="330.62" font-size="13.5" text-anchor="end" stroke="#000" stroke-width="0.2">800</text>
<text x="194.4" y="317.2" font-size="13.5" text-anchor="end" stroke="#000" stroke-width="0.2">900</text>
<text x="58.4" y="184.1" font-size="13.6" text-anchor="end" stroke="#000" stroke-width="0.2">Before</text>
<text x="58.4" y="199.7" font-size="13.6" text-anchor="end" stroke="#000" stroke-width="0.2">scheduling</text>
<text x="81.3" y="209.9" font-size="13.6" text-anchor="start" stroke="#000" stroke-width="0.2">A</text>
<text x="92" y="209.9" font-size="13.6" text-anchor="start" textLength="17.6" lengthAdjust="spacingAndGlyphs" stroke="#000" stroke-width="0.2">fter</text>
<text x="109.6" y="225.4" font-size="13.6" text-anchor="end" stroke="#000" stroke-width="0.2">scheduling</text>
<text x="167" y="229.9" font-size="14" text-anchor="middle" stroke="#000" stroke-width="0.2">4</text>
<text x="195.8" y="224.6" font-size="14" text-anchor="middle" stroke="#000" stroke-width="0.2">8</text>
<text x="230.2" y="220.7" font-size="14" text-anchor="middle" stroke="#000" stroke-width="0.2">12</text>
<text x="258.3" y="215.3" font-size="14" text-anchor="middle" stroke="#000" stroke-width="0.2">16</text>
<text x="284.8" y="210.5" font-size="14" text-anchor="middle" stroke="#000" stroke-width="0.2">20</text>
<text x="319.5" y="205.4" font-size="14" text-anchor="middle" stroke="#000" stroke-width="0.2">24</text>
<text x="246.7" y="231.5" font-size="14" text-anchor="start" stroke="#000" stroke-width="0.2">Time (h)</text>
<text x="88.7" y="252.8" font-size="13.5" text-anchor="start" stroke="#000" stroke-width="0.2">(a) Residential building energy</text>
<text x="416.4" y="184.1" font-size="13.6" text-anchor="end" stroke="#000" stroke-width="0.2">Before</text>
<text x="416.4" y="199.7" font-size="13.6" text-anchor="end" stroke="#000" stroke-width="0.2">scheduling</text>
<text x="439.3" y="209.9" font-size="13.6" text-anchor="start" stroke="#000" stroke-width="0.2">A</text>
<text x="450" y="209.9" font-size="13.6" text-anchor="start" textLength="17.6" lengthAdjust="spacingAndGlyphs" stroke="#000" stroke-width="0.2">fter</text>
<text x="467.6" y="225.4" font-size="13.6" text-anchor="end" stroke="#000" stroke-width="0.2">scheduling</text>
<text x="525" y="229.9" font-size="14" text-anchor="middle" stroke="#000" stroke-width="0.2">4</text>
<text x="553.8" y="224.6" font-size="14" text-anchor="middle" stroke="#000" stroke-width="0.2">8</text>
<text x="588.2" y="220.7" font-size="14" text-anchor="middle" stroke="#000" stroke-width="0.2">12</text>
<text x="616.3" y="215.3" font-size="14" text-anchor="middle" stroke="#000" stroke-width="0.2">16</text>
<text x="642.8" y="210.5" font-size="14" text-anchor="middle" stroke="#000" stroke-width="0.2">20</text>
<text x="677.5" y="205.4" font-size="14" text-anchor="middle" stroke="#000" stroke-width="0.2">24</text>
<text x="604.7" y="231.5" font-size="14" text-anchor="start" stroke="#000" stroke-width="0.2">Time (h)</text>
<text x="442.8" y="252.8" font-size="13.5" text-anchor="start" stroke="#000" stroke-width="0.2">(b) Commercial building energy</text>
<text x="214.7" y="444.5" font-size="13.6" text-anchor="end" stroke="#000" stroke-width="0.2">Before</text>
<text x="214.7" y="460.1" font-size="13.6" text-anchor="end" stroke="#000" stroke-width="0.2">scheduling</text>
<text x="237.6" y="470.3" font-size="13.6" text-anchor="start" stroke="#000" stroke-width="0.2">A</text>
<text x="248.3" y="470.3" font-size="13.6" text-anchor="start" textLength="17.6" lengthAdjust="spacingAndGlyphs" stroke="#000" stroke-width="0.2">fter</text>
<text x="265.9" y="485.8" font-size="13.6" text-anchor="end" stroke="#000" stroke-width="0.2">scheduling</text>
<text x="323.3" y="490.3" font-size="14" text-anchor="middle" stroke="#000" stroke-width="0.2">4</text>
<text x="352.1" y="485" font-size="14" text-anchor="middle" stroke="#000" stroke-width="0.2">8</text>
<text x="386.5" y="481.1" font-size="14" text-anchor="middle" stroke="#000" stroke-width="0.2">12</text>
<text x="414.6" y="475.7" font-size="14" text-anchor="middle" stroke="#000" stroke-width="0.2">16</text>
<text x="441.1" y="470.9" font-size="14" text-anchor="middle" stroke="#000" stroke-width="0.2">20</text>
<text x="475.8" y="465.8" font-size="14" text-anchor="middle" stroke="#000" stroke-width="0.2">24</text>
<text x="403" y="491.9" font-size="14" text-anchor="start" stroke="#000" stroke-width="0.2">Time (h)</text>
<text x="262.3" y="519.1" font-size="13.5" text-anchor="start" stroke="#000" stroke-width="0.2">(c) Industrial Building Energy</text>
<text transform="translate(12.7,108.6) rotate(-90)" font-size="14.3" text-anchor="middle" stroke="#000" stroke-width="0.2">Power (kW&#183;H)</text>
<text transform="translate(366.9,108) rotate(-90)" font-size="14.3" text-anchor="middle" stroke="#000" stroke-width="0.2">Power (kW&#183;H)</text>
<text transform="translate(166.6,372.8) rotate(-90)" font-size="14.3" text-anchor="middle" stroke="#000" stroke-width="0.2">Power (kW&#183;H)</text>
<text x="55.5" y="13" font-size="14.2" text-anchor="start" stroke="#000" stroke-width="0.2">Energy dispatch</text>
<text x="202.2" y="13" font-size="14.2" text-anchor="start" stroke="#000" stroke-width="0.2">No energy dispatch</text>
<text x="413.4" y="13" font-size="14.2" text-anchor="start" stroke="#000" stroke-width="0.2">Energy dispatch</text>
<text x="560.6" y="13" font-size="14.2" text-anchor="start" stroke="#000" stroke-width="0.2">No energy dispatch</text>
<text x="211.4" y="273.3" font-size="14.2" text-anchor="start" stroke="#000" stroke-width="0.2">Energy dispatch</text>
<text x="358.1" y="273.3" font-size="14.2" text-anchor="start" stroke="#000" stroke-width="0.2">No energy dispatch</text>
</g>
</g></svg>
</body></html>
